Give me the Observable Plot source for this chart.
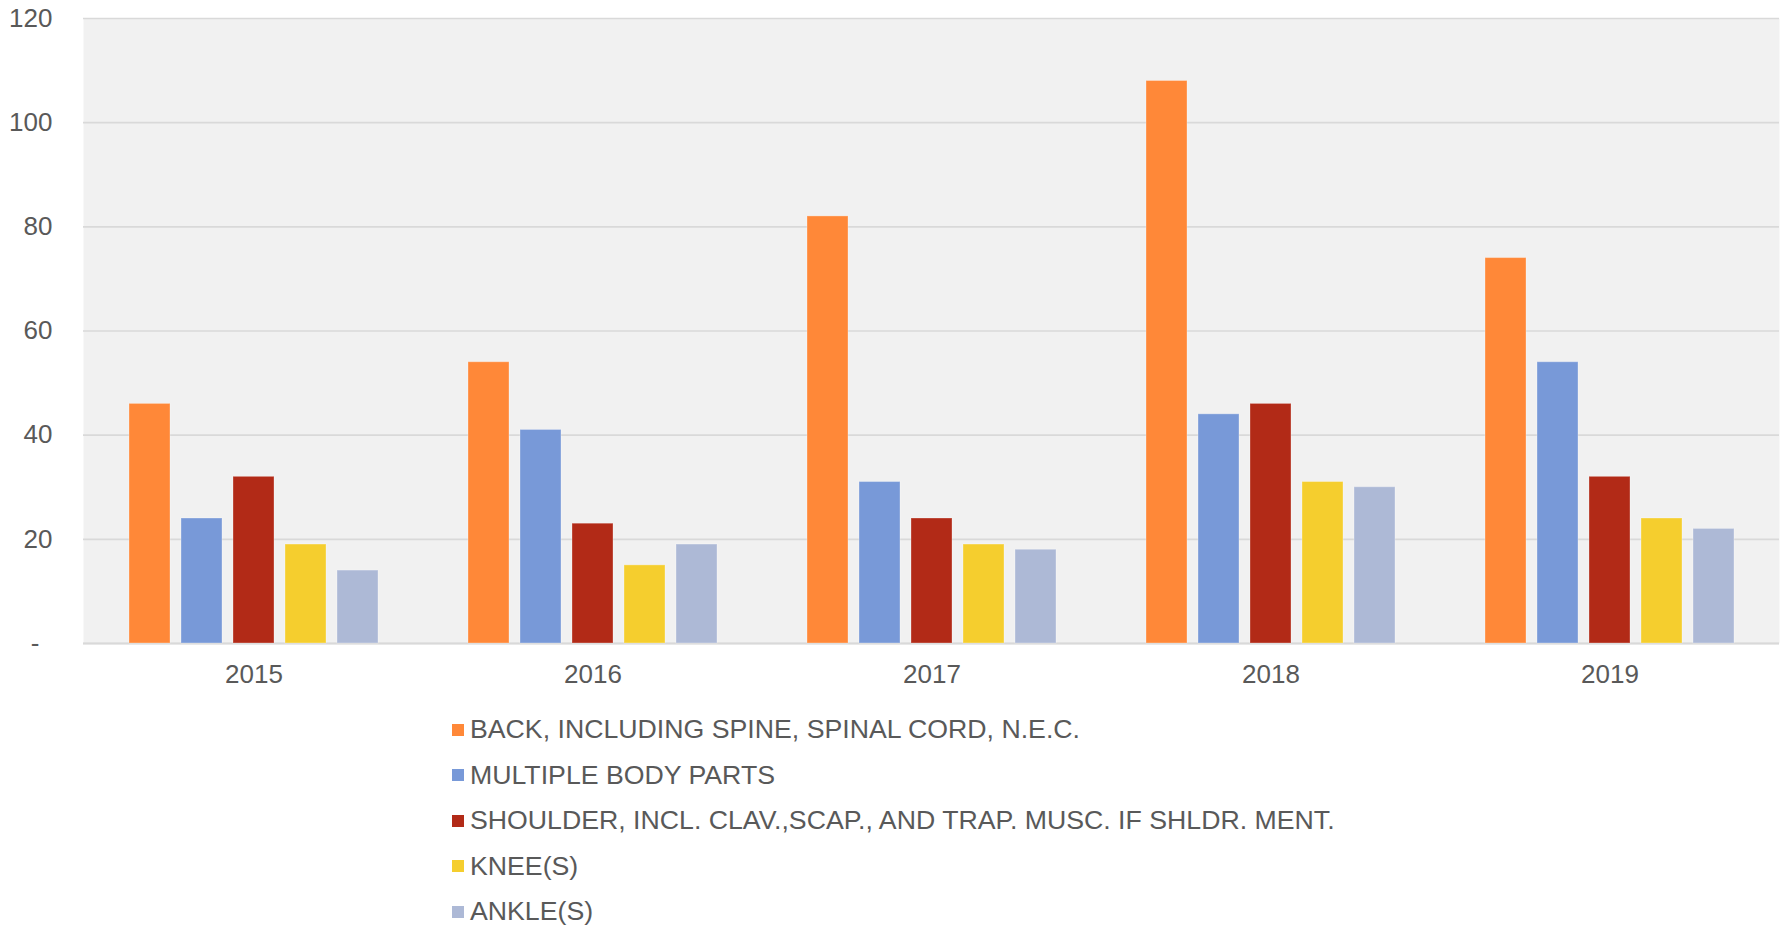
<!DOCTYPE html>
<html>
<head>
<meta charset="utf-8">
<script src="https://cdn.jsdelivr.net/npm/d3@7"></script>
<script src="https://cdn.jsdelivr.net/npm/@observablehq/plot@0.6"></script>
<style>
  html, body { margin: 0; padding: 0; background: #fff; }
  body { width: 1783px; height: 928px; overflow: hidden; font-family: "Liberation Sans", Arial, sans-serif; color: #595959; }
  #chart { position: relative; width: 1783px; height: 700px; }
  #chart svg { position: absolute; left: 0; top: 0; }
  #legend { margin-left: 452px; padding-top: 7px; }
  .item { height: 45.5px; display: flex; align-items: center; font-size: 26.7px; color: #595959; }
  .sw { width: 12px; height: 12px; margin-right: 6px; flex: none; }
</style>
</head>
<body>
<div id="chart"></div>
<div id="legend"></div>
<script>
const years = ["2015", "2016", "2017", "2018", "2019"];
const series = [
  "BACK, INCLUDING SPINE, SPINAL CORD, N.E.C.",
  "MULTIPLE BODY PARTS",
  "SHOULDER, INCL. CLAV.,SCAP., AND TRAP. MUSC. IF SHLDR. MENT.",
  "KNEE(S)",
  "ANKLE(S)"
];
const colors = ["#FF8838", "#7899D8", "#B22A17", "#F5CE2E", "#ADB9D6"];
const back     = [46, 54, 82, 108, 74];
const multiple = [24, 41, 31, 44, 54];
const shoulder = [32, 23, 24, 46, 32];
const knee     = [19, 15, 19, 31, 24];
const ankle    = [14, 19, 18, 30, 22];
const yTicks = [0, 20, 40, 60, 80, 100, 120];

const valuesBySeries = [back, multiple, shoulder, knee, ankle];
const data = [];
years.forEach((yr, i) => {
  series.forEach((s, j) => data.push({year: yr, series: s, value: valuesBySeries[j][i]}));
});

const common = {
  width: 1783,
  height: 700,
  marginTop: 18,
  marginBottom: 57,
  marginLeft: 83,
  marginRight: 4,
  style: {fontFamily: "'Liberation Sans', Arial, sans-serif", fontSize: "26px", color: "#595959", background: "transparent", overflow: "visible"},
  y: {domain: [0, 120], label: null}
};

// Layer 1: plot background, gridlines and value axis
const base = Plot.plot({
  ...common,
  x: {domain: years, axis: null},
  marks: [
    Plot.frame({fill: "#F1F1F1", stroke: null}),
    Plot.gridY(yTicks, {stroke: "#D9D9D9", strokeOpacity: 1, strokeWidth: 1.6}),
    Plot.axisY(yTicks, {tickSize: 0, tickPadding: 31, fontSize: 26, fill: "#595959", label: null,
      tickFormat: d => d === 0 ? "-\u2002" : String(d)}),
    Plot.ruleY([0], {stroke: "#D9D9D9", strokeWidth: 2})
  ]
});

// Layer 2: grouped bars faceted by year
const bars = Plot.plot({
  ...common,
  fx: {domain: years, paddingInner: 0.26, paddingOuter: 0.13, label: null},
  x: {domain: series, paddingInner: 0.21, paddingOuter: 0, axis: null},
  color: {domain: series, range: colors},
  marks: [
    Plot.axisFx({anchor: "bottom", tickSize: 0, tickPadding: 21, fontSize: 26, fill: "#595959", label: null}),
    Plot.axisY({ticks: [], label: null, tickSize: 0}),
    Plot.barY(data, {fx: "year", x: "series", y: "value", fill: "series", stroke: "#ffffff", strokeOpacity: 0.3, strokeWidth: 1})
  ]
});

const chartDiv = document.getElementById("chart");
chartDiv.append(base, bars);

const legend = document.getElementById("legend");
series.forEach((s, j) => {
  const row = document.createElement("div");
  row.className = "item";
  const sw = document.createElement("span");
  sw.className = "sw";
  sw.style.background = colors[j];
  const t = document.createElement("span");
  t.textContent = s;
  row.append(sw, t);
  legend.append(row);
});
</script>
</body>
</html>
